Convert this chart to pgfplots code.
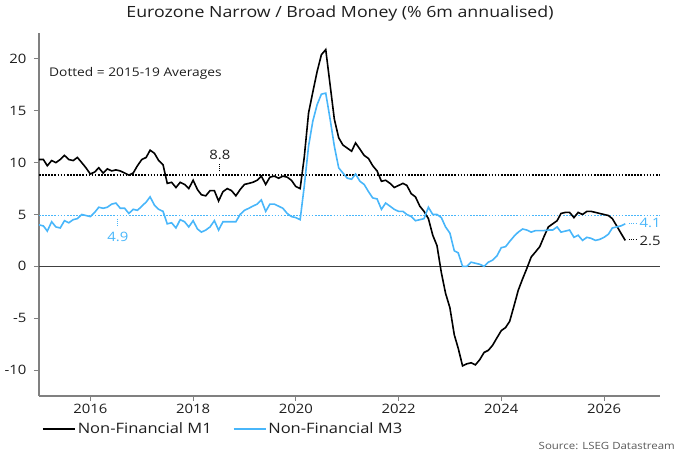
\documentclass[border=0pt]{standalone}
\usepackage{fontspec}
\setmainfont{Open Sans}[FakeStretch=1.15]
\usepackage{pgfplots}
\pgfplotsset{compat=1.18}
\usepackage{pgfplotstable}
\usepgfplotslibrary{dateplot}

\definecolor{mone}{RGB}{0,0,0}
\definecolor{mthree}{RGB}{72,182,250}
\definecolor{spine}{RGB}{128,128,128}
\definecolor{txt}{RGB}{30,30,30}

% Monthly 6m annualised growth, % : non-financial M1 and M3
\pgfplotstableread{
date m1 m3
2015-01-01 10.3 4.0
2015-02-01 10.3 3.9
2015-03-01 9.7 3.4
2015-04-01 10.2 4.3
2015-05-01 10.0 3.8
2015-06-01 10.3 3.7
2015-07-01 10.7 4.4
2015-08-01 10.3 4.2
2015-09-01 10.2 4.5
2015-10-01 10.5 4.6
2015-11-01 10.0 5.0
2015-12-01 9.5 4.9
2016-01-01 8.9 4.8
2016-02-01 9.1 5.2
2016-03-01 9.5 5.7
2016-04-01 9.0 5.6
2016-05-01 9.4 5.7
2016-06-01 9.2 6.0
2016-07-01 9.3 6.1
2016-08-01 9.2 5.6
2016-09-01 9.0 5.6
2016-10-01 8.8 5.1
2016-11-01 9.0 5.5
2016-12-01 9.7 5.4
2017-01-01 10.3 5.8
2017-02-01 10.5 6.2
2017-03-01 11.2 6.7
2017-04-01 10.9 5.9
2017-05-01 10.2 5.5
2017-06-01 9.8 5.3
2017-07-01 8.0 4.1
2017-08-01 8.1 4.2
2017-09-01 7.6 3.7
2017-10-01 8.1 4.5
2017-11-01 7.9 4.3
2017-12-01 7.5 3.8
2018-01-01 8.3 4.4
2018-02-01 7.4 3.6
2018-03-01 6.9 3.3
2018-04-01 6.8 3.5
2018-05-01 7.3 3.8
2018-06-01 7.3 4.4
2018-07-01 6.3 3.5
2018-08-01 7.2 4.3
2018-09-01 7.5 4.3
2018-10-01 7.3 4.3
2018-11-01 6.8 4.3
2018-12-01 7.4 5.0
2019-01-01 7.9 5.4
2019-02-01 8.0 5.6
2019-03-01 8.1 5.8
2019-04-01 8.3 6.0
2019-05-01 8.7 6.4
2019-06-01 7.9 5.3
2019-07-01 8.6 6.0
2019-08-01 8.7 6.0
2019-09-01 8.5 5.8
2019-10-01 8.7 5.6
2019-11-01 8.6 5.1
2019-12-01 8.3 4.8
2020-01-01 7.7 4.7
2020-02-01 7.5 4.5
2020-03-01 10.5 7.7
2020-04-01 14.8 11.6
2020-05-01 16.8 14.0
2020-06-01 18.8 15.6
2020-07-01 20.4 16.6
2020-08-01 20.9 16.7
2020-09-01 17.5 14.2
2020-10-01 14.2 11.6
2020-11-01 12.4 9.5
2020-12-01 11.7 9.0
2021-01-01 11.4 8.5
2021-02-01 11.1 8.4
2021-03-01 11.9 8.9
2021-04-01 11.3 8.2
2021-05-01 10.7 7.9
2021-06-01 10.4 7.2
2021-07-01 9.7 6.6
2021-08-01 9.2 6.5
2021-09-01 8.2 5.5
2021-10-01 8.3 6.1
2021-11-01 8.0 5.8
2021-12-01 7.6 5.5
2022-01-01 7.8 5.3
2022-02-01 8.0 5.3
2022-03-01 7.8 5.0
2022-04-01 7.0 4.8
2022-05-01 6.7 4.4
2022-06-01 5.8 4.5
2022-07-01 5.3 4.6
2022-08-01 4.6 5.7
2022-09-01 3.0 5.0
2022-10-01 2.0 5.0
2022-11-01 -0.6 4.7
2022-12-01 -2.6 3.8
2023-01-01 -4.0 3.2
2023-02-01 -6.6 1.5
2023-03-01 -7.9 1.3
2023-04-01 -9.6 0.0
2023-05-01 -9.4 0.0
2023-06-01 -9.3 0.4
2023-07-01 -9.5 0.3
2023-08-01 -9.0 0.2
2023-09-01 -8.3 0.0
2023-10-01 -8.1 0.4
2023-11-01 -7.6 0.6
2023-12-01 -6.9 1.0
2024-01-01 -6.2 1.8
2024-02-01 -5.9 1.9
2024-03-01 -5.3 2.4
2024-04-01 -3.8 2.9
2024-05-01 -2.3 3.3
2024-06-01 -1.2 3.6
2024-07-01 -0.2 3.5
2024-08-01 0.9 3.3
2024-09-01 1.4 3.45
2024-10-01 1.9 3.45
2024-11-01 2.9 3.45
2024-12-01 3.8 3.5
2025-01-01 4.1 3.5
2025-02-01 4.4 3.8
2025-03-01 5.1 3.3
2025-04-01 5.2 3.4
2025-05-01 5.2 3.5
2025-06-01 4.7 2.8
2025-07-01 5.2 3.0
2025-08-01 5.0 2.5
2025-09-01 5.3 2.8
2025-10-01 5.3 2.7
2025-11-01 5.2 2.5
2025-12-01 5.1 2.6
2026-01-01 5.0 2.8
2026-02-01 4.9 3.1
2026-03-01 4.6 3.7
2026-04-01 3.9 3.8
2026-05-01 3.2 3.9
2026-06-01 2.5 4.1
}\moneydata

\tikzset{
  avgdot/.style={line width=1.6bp, dash pattern=on 1.6bp off 1.5bp},
  tagdot/.style={line width=0.9bp, dash pattern=on 1bp off 1.2bp},
}

\begin{document}
\begin{tikzpicture}[x=1bp,y=1bp]
\useasboundingbox (-39,-59) rectangle (641,396);
\begin{axis}[
  at={(0,0)}, anchor=south west,
  scale only axis, width=621bp, height=363bp,
  date coordinates in=x,
  xmin=2015-01-01, xmax=2027-02-03,
  ymin=-12.5, ymax=22.5,
  axis x line*=bottom, axis y line*=left,
  axis line style={spine, line width=1.2bp, -},
  xtick={2016-01-01,2018-01-01,2020-01-01,2022-01-01,2024-01-01,2026-01-01},
  xticklabel=\year,
  ytick={-10,-5,0,5,10,15,20},
  tick align=outside,
  major tick length=5bp,
  tick style={spine, line width=1bp},
  ticklabel style={font=\fontsize{13}{15}\selectfont, text=txt},
  yticklabel style={xshift=-4bp},
  /pgf/number format/assume math mode=true,
  clip=false,
  legend style={at={(axis description cs:0.0,-0.091)}, anchor=west,
    draw=none, fill=none, font=\fontsize{14.4}{16}\selectfont, text=txt,
    legend columns=2, legend cell align=left,
    /tikz/every even column/.append style={column sep=19bp}},
  legend image code/.code={\draw[#1] (0bp,0bp) -- (32bp,0bp);},
]
% zero line and 2015-19 averages
\addplot[black!75, line width=1bp, forget plot] coordinates {(2015-01-01,0) (2027-02-03,0)};
\addplot[black, avgdot, forget plot] coordinates {(2015-01-01,8.8) (2027-01-28,8.8)};
\addplot[mthree, avgdot, forget plot] coordinates {(2015-01-01,4.9) (2027-01-28,4.9)};

\addplot[mone, line width=1.6bp] table[x=date, y=m1] {\moneydata};
\addlegendentry{Non-Financial M1}
\addplot[mthree, line width=1.6bp] table[x=date, y=m3] {\moneydata};
\addlegendentry{Non-Financial M3}

% average tags
\draw[black, tagdot] (axis cs:2018-07-10,9.15) -- (axis cs:2018-07-10,9.85);
\node[text=txt, font=\fontsize{13}{15}\selectfont] at (axis cs:2018-07-10,10.7) {8.8};
\draw[mthree, tagdot] (axis cs:2016-07-15,4.6) -- (axis cs:2016-07-15,3.9);
\node[text=mthree, font=\fontsize{13}{15}\selectfont] at (axis cs:2016-07-15,2.85) {4.9};

% latest values
\draw[mthree, tagdot] (axis cs:2026-06-28,4.1) -- (axis cs:2026-08-16,4.1);
\node[anchor=west, inner sep=0pt, text=mthree, font=\fontsize{13}{15}\selectfont] at (axis cs:2026-09-10,4.15) {4.1};
\draw[black, tagdot] (axis cs:2026-06-28,2.55) -- (axis cs:2026-08-16,2.55);
\node[anchor=west, inner sep=0pt, text=txt, font=\fontsize{13}{15}\selectfont] at (axis cs:2026-09-10,2.5) {2.5};

\node[anchor=west, inner sep=0pt, text=txt, font=\fontsize{12}{14}\selectfont] at (axis cs:2015-03-13,18.6) {Dotted = 2015-19 Averages};
\end{axis}
\node[text=txt, font=\fontsize{15.5}{18}\selectfont] at (301,383) {Eurozone Narrow / Broad Money (\% 6m annualised)};
\node[anchor=east, inner sep=0pt, text=black!65, font=\fontsize{10}{12}\selectfont] at (636,-50) {Source: LSEG Datastream};
\end{tikzpicture}
\end{document}
